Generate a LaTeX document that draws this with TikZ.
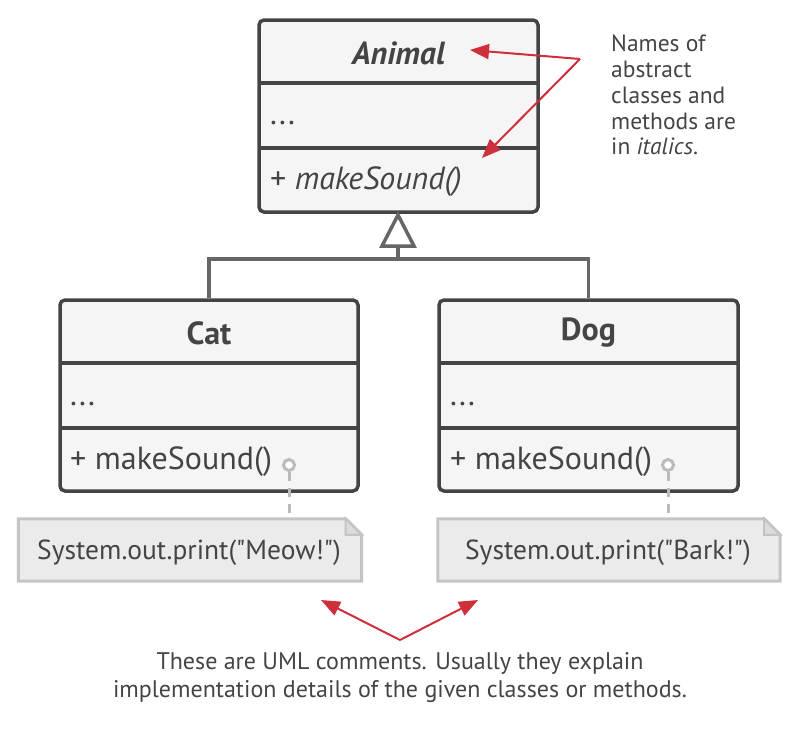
\documentclass[tikz,border=0pt]{standalone}
\usepackage{fontspec}
\setmainfont{PT Sans}
\newfontfamily\notefont{PT Sans}[Ligatures=TeXOff]
\usetikzlibrary{arrows.meta,calc}
\definecolor{ink}{HTML}{444444}
\definecolor{boxfill}{HTML}{F5F5F5}
\definecolor{linkgray}{HTML}{666666}
\definecolor{notefill}{HTML}{EBEBEB}
\definecolor{noteline}{HTML}{C4C4C4}
\definecolor{pin}{HTML}{BBBBBB}
\definecolor{redarrow}{HTML}{CF2F3A}
\tikzset{
  classbox/.style={draw=ink, fill=boxfill, line width=3.5pt, rounded corners=5pt, inner sep=0pt},
  sepline/.style={draw=ink, line width=3.5pt},
  cname/.style={text=ink, font=\fontsize{32}{36}\selectfont\bfseries, inner sep=0pt},
  cmember/.style={text=ink, font=\fontsize{32}{36}\selectfont, inner sep=0pt, anchor=west},
  inherit/.style={draw=linkgray, line width=3.2pt},
  notebody/.style={draw=noteline, fill=notefill, line width=3pt, line join=miter},
  notetext/.style={text=ink, font=\notefont\fontsize{27.5}{32}\selectfont, inner sep=0pt},
  pinline/.style={draw=pin, line width=3pt, dash pattern=on 9pt off 7pt},
  redlink/.style={draw=redarrow, line width=2pt, -{Triangle[length=19pt,width=15pt]}},
  annot/.style={text=ink, font=\fontsize{23.5}{25.7}\selectfont, inner sep=0pt}
}
\begin{document}
\begin{tikzpicture}[x=1pt,y=-1pt]
\useasboundingbox (0,0) rectangle (800,740);
% Animal
\node[classbox, minimum width=279pt, minimum height=192pt] (animal) at (398.5,116) {};
\draw[sepline] (259,83) -- (538,83);
\draw[sepline] (259,148) -- (538,148);
\node[cname, font=\fontsize{32}{36}\selectfont\bfseries\itshape] (animalname) at (398.5,53) {Animal};
\node[cmember] (animalattr) at (270,123) {...};
\node[cmember] (animalop) at (270,182) {+ \textit{makeSound()}};
% Cat
\node[classbox, minimum width=298pt, minimum height=191pt] (cat) at (209,395.5) {};
\draw[sepline] (60,363) -- (358,363);
\draw[sepline] (60,428) -- (358,428);
\node[cname] (catname) at (209,333) {Cat};
\node[cmember] (catattr) at (70,404) {...};
\node[cmember] (catop) at (70,462) {+ makeSound()};
% Dog
\node[classbox, minimum width=299pt, minimum height=191pt] (dog) at (588.5,395.5) {};
\draw[sepline] (439,363) -- (738,363);
\draw[sepline] (439,428) -- (738,428);
\node[cname] (dogname) at (588.5,333) {Dog};
\node[cmember] (dogattr) at (450,404) {...};
\node[cmember] (dogop) at (450,462) {+ makeSound()};
% inheritance
\coordinate (apex) at (398,215);
\coordinate (basemid) at (398,246);
\coordinate (bar) at (398,259);
\draw[inherit] (bar) -| (cat.north);
\draw[inherit] (bar) -| (dog.north);
\draw[inherit] (basemid) -- (bar);
\draw[inherit, line width=3.5pt, line join=miter] (apex) -- (382,246) -- (414,246) -- cycle;
% notes
\node[minimum width=343pt, minimum height=62pt, inner sep=0pt] (catnote) at (190,550) {};
\node[minimum width=342pt, minimum height=62pt, inner sep=0pt] (dognote) at (609,550) {};
\foreach \n in {catnote,dognote}{
  \draw[notebody] (\n.north west) -- ($(\n.north east)+(-16,0)$) -- ($(\n.north east)+(0,16)$) -- (\n.south east) -- (\n.south west) -- cycle;
  \draw[draw=noteline, fill=noteline!60!white, line width=2pt, line join=miter] ($(\n.north east)+(-16,0)$) -- ($(\n.north east)+(-16,16)$) -- ($(\n.north east)+(0,16)$) -- cycle;
}
\node[notetext] (cattext) at (189,553) {System.out.print("Meow!")};
\node[notetext] (dogtext) at (608,553) {System.out.print("Bark!")};
% pins
\node[circle, draw=pin, fill=white, line width=3pt, minimum size=11pt, inner sep=0pt] (catpin) at (289,465) {};
\node[circle, draw=pin, fill=white, line width=3pt, minimum size=11pt, inner sep=0pt] (dogpin) at (668,465) {};
\draw[pinline] (catpin.south) -- (catpin.south |- catnote.north);
\draw[pinline] (dogpin.south) -- (dogpin.south |- dognote.north);
% top annotation
\node[annot, anchor=north west, align=left] (absnote) at (611,35) {Names of\\abstract\\classes and\\methods are\\in \textit{italics}.};
\coordinate (absjoin) at (580,59);
\coordinate (animaltip) at (470,50);
\coordinate (optip) at (482,158);
\draw[redlink] (absjoin) -- (animaltip);
\draw[redlink] (absjoin) -- (optip);
% bottom annotation
\coordinate (cmtjoin) at (400,640);
\coordinate (cattip) at (321,600);
\coordinate (dogtip) at (478,600);
\draw[redlink] (cmtjoin) -- (cattip);
\draw[redlink] (cmtjoin) -- (dogtip);
\node[annot, align=center, font=\fontsize{24}{28}\selectfont] (cmtnote) at (400,678) {These are UML comments. Usually they explain\\implementation details of the given classes or methods.};
\end{tikzpicture}
\end{document}
